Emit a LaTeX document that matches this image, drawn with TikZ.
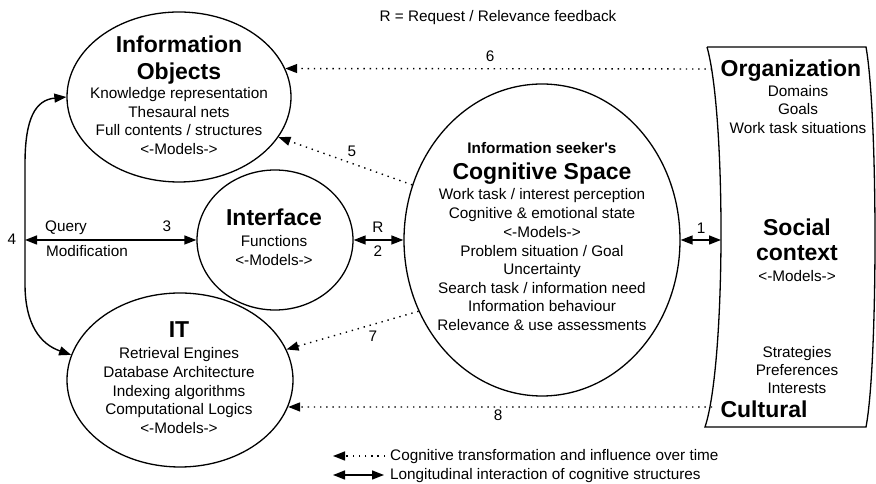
\documentclass[tikz,border=0pt]{standalone}
\usepackage{fontspec}
\setmainfont{Liberation Sans}
\newfontfamily\plainfont{Liberation Sans}
\usetikzlibrary{shapes.geometric,arrows.meta}
\tikzset{
  ell/.style={draw, ellipse, line width=1.3pt, inner sep=0pt},
  body/.style={font=\fontsize{15.3}{18}\selectfont, anchor=base, inner sep=0pt},
  bbody/.style={font=\plainfont\fontsize{15.3}{18}\selectfont\bfseries, anchor=base, inner sep=0pt},
  ttl/.style={font=\fontsize{23}{27}\selectfont\bfseries, anchor=base, inner sep=0pt},
  tip/.tip={Triangle[length=12pt,width=9pt]},
  lnk/.style={line width=1.4pt, tip-tip},
  infl/.style={line width=1.4pt, dash pattern=on 1.4pt off 4.8pt, -tip},
}
\begin{document}
\begin{tikzpicture}[x=1pt,y=1pt]
\useasboundingbox (0,0) rectangle (876,484);

% ellipses
\node[ell, minimum width=224pt, minimum height=170pt] (io) at (179,387) {};
\node[ell, minimum width=156pt, minimum height=140pt] (itf) at (275,244) {};
\node[ell, minimum width=226pt, minimum height=174pt] (it) at (180,104) {};
\node[ell, minimum width=276pt, minimum height=312pt] (cog) at (542,244) {};

% social context shape
\draw[line width=1.3pt] (707,437) -- (866,437)
  .. controls (878,370) and (878,120) .. (866,57) -- (705,57)
  .. controls (726,120) and (726,370) .. (707,437);
\coordinate (org) at (712,415);
\coordinate (cul) at (712,77);
\coordinate (soc) at (721,244);
\coordinate (c4) at (25,244);

% texts: Information Objects
\node[ttl] (ioT1) at (179,431) {Information};
\node[ttl] (ioT2) at (179,404) {Objects};
\foreach \t/\y [count=\i] in {Knowledge representation/385, Thesaural nets/366, {Full contents / structures}/348, <-Models->/329}
  \node[body] (io\i) at (179,\y) {\t};

% Interface
\node[ttl] (itfT) at (274,258) {Interface};
\node[body] (itf1) at (274,237) {Functions};
\node[body] (itf2) at (274,218) {<-Models->};

% IT
\node[ttl] (itT) at (179,146) {IT};
\foreach \t/\y [count=\i] in {Retrieval Engines/125, Database Architecture/106, Indexing algorithms/87, Computational Logics/69, <-Models->/50}
  \node[body] (it\i) at (179,\y) {\t};

% Cognitive space
\node[bbody] (cogS) at (542,330) {Information seeker's};
\node[ttl] (cogT) at (542,304) {Cognitive Space};
\foreach \t/\y [count=\i] in {{Work task / interest perception}/284, Cognitive \& emotional state/265, <-Models->/246, {Problem situation / Goal}/227, Uncertainty/209, {Search task / information need}/190, Information behaviour/172, Relevance \& use assessments/153}
  \node[body] (cog\i) at (542,\y) {\t};

% Social context texts
\node[ttl] (orgT) at (791,407) {Organization};
\node[body] (org1) at (798,387) {Domains};
\node[body] (org2) at (798,369) {Goals};
\node[body] (org3) at (798,350) {Work task situations};
\node[ttl] (socT1) at (797,248) {Social};
\node[ttl] (socT2) at (797,223) {context};
\node[body] (soc1) at (797,202) {<-Models->};
\node[body] (cul1) at (797,126) {Strategies};
\node[body] (cul2) at (797,108) {Preferences};
\node[body] (cul3) at (797,90) {Interests};
\node[ttl] (culT) at (764,66) {Cultural};

% top note
\node[body] (note) at (498,462) {R = Request / Relevance feedback};

% connectors
\draw[infl] (org) -- (io.15);
\draw[infl] (cog.157) -- (io.-22);
\draw[infl] (cog.210) -- (it.16);
\draw[infl] (cul) -- (it.-14);
\draw[lnk] (io.west) .. controls (35,384) and (25,365) .. (25,320) -- (25,200)
  .. controls (25,160) and (40,140) .. (it.167);
\draw[lnk] (c4) -- (itf.west);
\draw[lnk] (itf.east) -- (cog.west);
\draw[lnk] (cog.east) -- (soc);

% labels
\node[body] (l6) at (490,422) {6};
\node[body] (l5) at (352,327) {5};
\node[body] (l7) at (373,142) {7};
\node[body] (l8) at (498,63) {8};
\node[body] (l3) at (167,252) {3};
\node[body] (lq) at (66,252) {Query};
\node[body] (lm) at (87,227) {Modification};
\node[body] (l4) at (12,239) {4};
\node[body] (lR) at (378,251) {R};
\node[body] (l2) at (378,227) {2};
\node[body] (l1) at (701,250) {1};

% legend
\coordinate (lg1a) at (333,28);
\coordinate (lg1b) at (385,28);
\coordinate (lg2a) at (333,9);
\coordinate (lg2b) at (384,9);
\draw[infl] (lg1b) -- (lg1a);
\draw[lnk] (lg2a) -- (lg2b);
\node[body, anchor=base west] (lg1) at (390,23) {Cognitive transformation and influence over time};
\node[body, anchor=base west] (lg2) at (390,4) {Longitudinal interaction of cognitive structures};
\end{tikzpicture}
\end{document}
